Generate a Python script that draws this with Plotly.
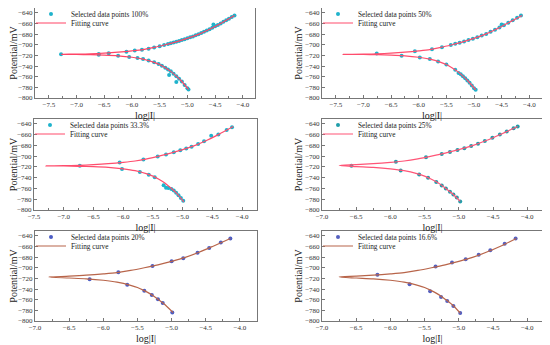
import plotly.graph_objects as go

# ---------------- data ----------------
labels = ["Selected data points 100%", "Selected data points 50%", "Selected data points 33.3%",
          "Selected data points 25%", "Selected data points 20%", "Selected data points 16.6%"]

# fitting curves (anodic branch from high current to E_corr, then cathodic branch)
fit1_x = [-4.15, -4.4, -4.6, -4.8, -5.0, -5.2, -5.4, -5.6, -5.8, -6.0, -6.25, -6.5, -6.75, -7.0, -7.28,
          -7.0, -6.75, -6.5, -6.25, -6.0, -5.8, -5.6, -5.5, -5.4, -5.3, -5.2, -5.1, -4.98]
fit1_y = [-645, -660, -671, -680.5, -688, -694.5, -700, -705, -709, -711.5, -714, -715.8, -717, -717.6, -718,
          -718.3, -718.8, -719.5, -720.8, -723.5, -727, -733, -737, -743, -750, -759, -769, -784]
fit2_x = [-4.13, -4.4, -4.6, -4.8, -5.0, -5.2, -5.4, -5.6, -5.8, -6.0, -6.25, -6.5, -6.75, -7.0, -7.37,
          -7.0, -6.75, -6.5, -6.25, -6.0, -5.8, -5.6, -5.5, -5.4, -5.3, -5.2, -5.1, -4.97]
fit2_y = [-645, -660, -671, -680.5, -688, -694.5, -700, -705, -709, -711.5, -714, -715.8, -717, -717.6, -718,
          -718.3, -718.8, -719.5, -720.8, -723.5, -727, -733, -737, -743, -750, -759, -769, -784.5]
fit3_x = [-4.15, -4.4, -4.6, -4.8, -5.0, -5.2, -5.4, -5.6, -5.8, -6.0, -6.25, -6.5, -6.75, -7.0, -7.3,
          -7.0, -6.75, -6.5, -6.25, -6.0, -5.8, -5.6, -5.5, -5.4, -5.3, -5.2, -5.1, -4.98]
fit3_y = [-645, -660, -671, -680.5, -688, -694.5, -700, -705, -709, -711.5, -714, -715.8, -717, -717.6, -718,
          -718.3, -718.8, -719.5, -720.8, -723.5, -727, -733, -737, -743, -750, -759, -769, -785]
fit4_x = [-4.14, -4.4, -4.6, -4.8, -5.0, -5.2, -5.4, -5.6, -5.8, -6.0, -6.25, -6.5, -6.75,
          -6.5, -6.25, -6.0, -5.8, -5.6, -5.5, -5.4, -5.3, -5.2, -5.1, -4.98]
fit4_y = [-645, -660, -671, -680.5, -688, -694.5, -700, -705, -709, -711.5, -714, -715.8, -717.5,
          -719.3, -720.8, -723.5, -727, -733, -737, -743, -750, -759, -769, -784]
fit5_x = [-4.14, -4.4, -4.6, -4.8, -5.0, -5.2, -5.4, -5.6, -5.8, -6.0, -6.25, -6.5, -6.8,
          -6.5, -6.25, -6.0, -5.8, -5.6, -5.5, -5.4, -5.3, -5.2, -5.1, -4.98]
fit5_y = [-645, -660, -671, -680.5, -688, -694.5, -700, -705, -709, -711.5, -714, -715.8, -717.5,
          -719.3, -720.8, -723.5, -727, -733, -737, -743, -750, -759, -769, -784]
fit6_x = [-4.16, -4.4, -4.6, -4.8, -5.0, -5.2, -5.4, -5.6, -5.8, -6.0, -6.25, -6.5, -6.75,
          -6.5, -6.25, -6.0, -5.8, -5.6, -5.5, -5.4, -5.3, -5.2, -5.1, -4.98]
fit6_y = [-645, -660, -671, -680.5, -688, -694.5, -700, -705, -709, -711.5, -714, -715.8, -717.5,
          -719.3, -720.8, -723.5, -727, -733, -737, -743, -750, -759, -769, -785]

# selected data points
pts1_x = [-7.28, -6.6, -6.42, -6.1, -5.95, -5.82, -5.7, -5.6, -5.5, -5.42,
          -5.35, -5.30, -5.25, -5.20, -5.15, -5.10, -5.05, -5.00, -4.95, -4.90, -4.85, -4.80,
          -4.75, -4.70, -4.65, -4.60, -4.55, -4.50, -4.45, -4.40, -4.35, -4.30, -4.25, -4.20, -4.15,
          -4.53,
          -6.6, -6.25, -6.05, -5.9, -5.8, -5.7, -5.6, -5.52, -5.46,
          -5.40, -5.35, -5.30, -5.25, -5.20, -5.15, -5.10, -5.05, -5.00, -4.98,
          -5.33, -5.2]
pts1_y = [-718, -717.2, -716, -713, -711, -709.2, -707.3, -705, -702.6, -700.6,
          -698.6, -697.2, -695.9, -694.5, -692.9, -691.3, -689.6, -688, -686.1, -684.3, -682.4, -680.5,
          -678.1, -675.8, -673.4, -671, -668.3, -665.5, -662.8, -660, -657, -654, -651, -648, -645,
          -662,
          -719, -720.8, -723, -725, -727, -729.8, -733, -736, -739.5,
          -743, -746.5, -750, -754.5, -759, -764, -769, -775.5, -781.5, -784,
          -757, -770]
pts2_x = [-6.76, -6.07, -5.76, -5.58, -5.42, -5.34, -5.26, -5.18, -5.10, -5.02, -4.94, -4.86, -4.78,
          -4.70, -4.62, -4.54, -4.50, -4.46, -4.38, -4.30, -4.22, -4.15,
          -6.31, -5.98, -5.80, -5.65, -5.50, -5.34, -5.28, -5.24, -5.20, -5.16, -5.12, -5.08, -5.04,
          -5.00, -4.97]
pts2_y = [-716.5, -712, -708.3, -704.8, -700.6, -698.3, -696.1, -693.8, -691.3, -688.7, -685.7, -682.8, -679.6,
          -675.8, -672, -667.8, -662, -663.3, -658.8, -654, -649.2, -645,
          -720.5, -723.8, -727, -731.5, -737, -747, -753, -755.5, -759, -763, -767, -771.5, -776.5,
          -781.5, -784.5]
pts3_x = [-6.73, -6.06, -5.66, -5.42, -5.28, -5.15, -5.04, -4.94, -4.85, -4.74, -4.64, -4.52, -4.40,
          -4.26, -4.17,
          -6.02, -5.72, -5.57, -5.47, -5.32, -5.28, -5.24, -5.19, -5.15, -5.11, -5.07, -5.03, -4.99]
pts3_y = [-717.8, -711.6, -706, -700.6, -696.7, -692.6, -689, -685.7, -682.4, -677.6, -672.5, -662, -660,
          -651.6, -646.5,
          -723.9, -729.6, -734.5, -739, -754, -758.5, -759, -761, -764, -768, -772.5, -777.5, -783]
pts4_x = [-6.57, -5.92, -5.48, -5.25, -5.13, -5.02, -4.92, -4.82, -4.72, -4.62, -4.51, -4.40, -4.30,
          -4.20, -4.14,
          -5.85, -5.58, -5.45, -5.33, -5.25, -5.19, -5.13, -5.08, -5.03, -4.98]
pts4_y = [-718, -710.5, -702, -696, -692.5, -688.7, -685.2, -681.3, -677, -672, -666, -660, -654,
          -648, -645,
          -726.5, -734, -740, -748, -754.5, -760, -766, -771, -777, -784]
pts5_x = [-5.78, -5.28, -5.0, -4.83, -4.62, -4.45, -4.28, -4.14,
          -6.2, -5.65, -5.40, -5.29, -5.2, -5.13, -4.99]
pts5_y = [-708.5, -696.5, -688, -682, -672, -662.8, -652.8, -645,
          -721.5, -732, -743, -751, -759, -766, -784]
pts6_x = [-6.19, -5.34, -5.10, -4.90, -4.71, -4.54, -4.33, -4.17,
          -5.72, -5.42, -5.26, -5.17, -5.08, -4.98]
pts6_y = [-713, -697.5, -690, -684, -675.5, -667, -655, -645,
          -731, -744, -755, -762.5, -772, -785]

x_ranges = [[-7.75, -3.78], [-7.75, -3.77], [-7.5, -3.75], [-7.0, -3.77], [-7.0, -3.75], [-7.0, -3.77]]
y_range = [-800, -631]

point_colors = ["#1fb3cc", "#1fb3cc", "#1fb3cc", "#1f9eaa", "#4b5cc4", "#5560c0"]
line_colors = ["#ff4466", "#ff4d6d", "#ff4d6d", "#ff5577", "#b8654a", "#b8654a"]

fits = [(fit1_x, fit1_y), (fit2_x, fit2_y), (fit3_x, fit3_y), (fit4_x, fit4_y), (fit5_x, fit5_y), (fit6_x, fit6_y)]
pts = [(pts1_x, pts1_y), (pts2_x, pts2_y), (pts3_x, pts3_y), (pts4_x, pts4_y), (pts5_x, pts5_y), (pts6_x, pts6_y)]

# ---------------- layout geometry (pixels, measured on the 550x345 page) ----------------
OFF = 8  # default page body margin of the html page
W, H = 550 - OFF, 345 - OFF
x_dom_px = [(35, 255), (322, 542), (34, 257), (322, 543), (35, 257), (322, 543)]
y_dom_px = [(8, 98), (8, 98), (119, 210), (119, 210), (231, 321), (231, 321)]

FONT = "Liberation Serif, Times New Roman, serif"
fig = go.Figure()

for i in range(6):
    n = i + 1
    xa = "x" if n == 1 else f"x{n}"
    ya = "y" if n == 1 else f"y{n}"
    leg_a = "legend" if i == 0 else f"legend{2*i+1}"
    leg_b = f"legend{2*i+2}"
    fig.add_trace(go.Scatter(
        x=pts[i][0], y=pts[i][1], mode="markers", name=labels[i],
        marker=dict(color=point_colors[i], size=4, symbol="circle"),
        xaxis=xa, yaxis=ya, legend=leg_a))
    fig.add_trace(go.Scatter(
        x=fits[i][0], y=fits[i][1], mode="lines", name="Fitting curve",
        line=dict(color=line_colors[i], width=1.2, shape="spline", smoothing=0.8),
        xaxis=xa, yaxis=ya, legend=leg_b))

layout = dict(
    width=W, height=H, autosize=False,
    margin=dict(l=0, r=0, t=0, b=0, pad=0, autoexpand=False),
    paper_bgcolor="white", plot_bgcolor="white",
    font=dict(family=FONT, size=8, color="#222"),
    showlegend=True,
)

axis_common = dict(showline=True, linecolor="#777", linewidth=1, mirror=True,
                   showgrid=False, zeroline=False, ticks="inside", ticklen=3,
                   tickcolor="#777", tickfont=dict(family=FONT, size=7, color="#333"))

for i in range(6):
    n = i + 1
    xk = "xaxis" if n == 1 else f"xaxis{n}"
    yk = "yaxis" if n == 1 else f"yaxis{n}"
    x0, x1 = [v - OFF for v in x_dom_px[i]]
    yt, yb = [v - OFF for v in y_dom_px[i]]
    layout[xk] = dict(axis_common, domain=[x0 / W, x1 / W], range=x_ranges[i],
                      anchor="y" if n == 1 else f"y{n}", dtick=0.5, tick0=-7.5, tickformat=".1f",
                      minor=dict(ticks="inside", ticklen=2, dtick=0.25, tickcolor="#777"),
                      title=dict(text="log|I|", font=dict(family=FONT, size=10, color="#222"), standoff=3))
    layout[yk] = dict(axis_common, domain=[1 - yb / H, 1 - yt / H], range=y_range,
                      anchor="x" if n == 1 else f"x{n}", dtick=20, tick0=-800,
                      title=dict(text="Potential/mV", font=dict(family=FONT, size=10, color="#222"), standoff=0))
    # legends
    leg_a = "legend" if i == 0 else f"legend{2*i+1}"
    leg_b = f"legend{2*i+2}"
    lx = (x0 - 4) / W
    layout[leg_a] = dict(x=lx, y=1 - (yt + 6) / H, xanchor="left", yanchor="middle",
                         bgcolor="rgba(0,0,0,0)", font=dict(family=FONT, size=7.3, color="#222"),
                         itemwidth=30, tracegroupgap=0)
    layout[leg_b] = dict(x=lx, y=1 - (yt + 15) / H, xanchor="left", yanchor="middle",
                         bgcolor="rgba(0,0,0,0)", font=dict(family=FONT, size=7.3, color="#222"),
                         itemwidth=30, tracegroupgap=0)

fig.update_layout(**layout)
fig.write_html("out.html")
